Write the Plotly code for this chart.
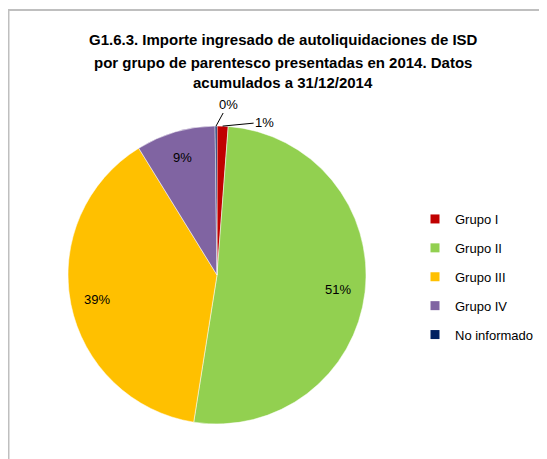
import math
import plotly.graph_objects as go

categories = ["Grupo I", "Grupo II", "Grupo III", "Grupo IV", "No informado"]
values = [1.2, 51.3, 38.7, 8.6, 0.2]
colors = ["#C00000", "#92D050", "#FFC000", "#8064A2", "#002060"]
title_lines = ["G1.6.3. Importe ingresado de autoliquidaciones de ISD",
               "por grupo de parentesco presentadas en 2014. Datos",
               "acumulados a 31/12/2014"]

OFF = 8  # page body margin
W, H = 547 - OFF, 459 - OFF
FONT = "Liberation Sans, Arial, sans-serif"

# pie geometry (window pixels)
CX, CY, R = 217, 275, 149


def px(x):
    return (x - OFF) / W


def py(y):
    return 1 - (y - OFF) / H


fig = go.Figure()

fig.add_trace(go.Pie(
    labels=categories,
    values=values,
    marker=dict(colors=colors, line=dict(color="white", width=0.5)),
    sort=False,
    direction="clockwise",
    rotation=0,
    textinfo="none",
    showlegend=False,
    domain=dict(x=[px(CX - R), px(CX + R)], y=[py(CY + R), py(CY - R)]),
    hoverinfo="label+percent",
))

for c, col in zip(categories, colors):
    fig.add_trace(go.Scatter(
        x=[None], y=[None], mode="markers", name=c,
        marker=dict(symbol="square", size=9, color=col),
        legendgroup=c, showlegend=True,
    ))

annotations = []
title_y = [40, 62, 83]
for line, ty in zip(title_lines, title_y):
    annotations.append(dict(
        text="<b>" + line + "</b>", x=px(283), y=py(ty), xref="paper", yref="paper",
        xanchor="center", yanchor="middle", showarrow=False,
        font=dict(family=FONT, size=15, color="#000000"),
    ))

# percentage labels derived from the data
total = sum(values)
cum = 0.0
small_offsets = {0: (42, -4), 4: (12, -22)}
for i, v in enumerate(values):
    frac = v / total
    mid = (cum + frac / 2) * 2 * math.pi
    cum += frac
    label = f"{round(frac * 100):d}%"
    if frac < 0.02:
        ex = CX + R * math.sin(mid)
        ey = CY - R * math.cos(mid)
        ax, ay = small_offsets.get(i, (20, -20))
        annotations.append(dict(
            text=label, x=px(ex), y=py(ey), xref="paper", yref="paper",
            ax=ax, ay=ay, showarrow=True, arrowhead=0, arrowwidth=1,
            arrowcolor="#000000", standoff=0,
            font=dict(family=FONT, size=13, color="#000000"),
        ))
    else:
        f = 0.82
        lx = CX + f * R * math.sin(mid)
        ly = CY - f * R * math.cos(mid)
        annotations.append(dict(
            text=label, x=px(lx), y=py(ly), xref="paper", yref="paper",
            xanchor="center", yanchor="middle", showarrow=False,
            font=dict(family=FONT, size=13, color="#000000"),
        ))

fig.update_layout(
    width=W, height=H,
    margin=dict(l=0, r=0, t=0, b=0),
    paper_bgcolor="white", plot_bgcolor="white",
    xaxis=dict(visible=False), yaxis=dict(visible=False),
    font=dict(family=FONT, size=13, color="#000000"),
    legend=dict(x=px(415), y=py(204), xanchor="left", yanchor="top",
                tracegroupgap=9, itemwidth=30,
                font=dict(family=FONT, size=13, color="#000000"),
                bgcolor="rgba(0,0,0,0)"),
    annotations=annotations,
    shapes=[
        dict(type="line", xref="paper", yref="paper", x0=0, x1=0, y0=py(10), y1=0,
             line=dict(color="#BFBFBF", width=3)),
        dict(type="line", xref="paper", yref="paper", x0=0, x1=1, y0=py(10), y1=py(10),
             line=dict(color="#BFBFBF", width=2)),
    ],
)

fig.write_html("out.html")
